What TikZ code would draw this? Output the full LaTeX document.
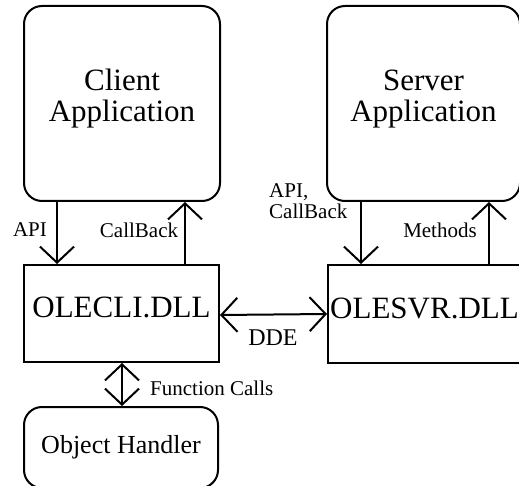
\documentclass[tikz,border=0pt]{standalone}
\usepackage{fontspec}
\setmainfont{Liberation Serif}
\usetikzlibrary{arrows.meta}
\newcommand{\uptext}[2]{\raisebox{#1}[\height][\depth]{\begin{tabular}{@{}c@{}}#2\end{tabular}}}
\begin{document}
\begin{tikzpicture}[x=1pt,y=-1pt,
  box/.style={draw,line width=2pt,inner sep=0pt,align=center,font=\fontsize{31}{31}\selectfont},
  rbox/.style={box,rounded corners=18pt},
  lbl/.style={inner sep=0pt,font=\fontsize{21}{21}\selectfont},
  conn/.style={line width=2pt,-{Straight Barb[length=16pt,width=34pt]}},
  dconn/.style={line width=2pt,{Straight Barb[length=16pt,width=34pt]}-{Straight Barb[length=16pt,width=34pt]}}]
\useasboundingbox (0,0) rectangle (519,486);
\node[rbox,minimum width=196pt,minimum height=195pt] (cliapp) at (122,103.5) {\uptext{4pt}{Client\\Application}};
\node[rbox,minimum width=193pt,minimum height=195pt] (svrapp) at (423.5,103.5) {\uptext{4pt}{Server\\Application}};
\node[box,minimum width=195pt,minimum height=97pt] (olecli) at (121.5,313.5) {\uptext{2pt}{OLECLI.DLL}};
\node[box,minimum width=193pt,minimum height=98pt] (olesvr) at (424.5,314) {\uptext{2pt}{OLESVR.DLL}};
\node[rbox,minimum width=194pt,minimum height=81pt,font=\fontsize{26}{26}\selectfont] (objh) at (121,447.5) {Object Handler};
% connectors
\draw[conn] ([xshift=34pt]cliapp.south west) -- ([xshift=34pt]olecli.north west);
\draw[conn] ([xshift=162pt]olecli.north west) -- ([xshift=162pt]cliapp.south west);
\draw[conn] ([xshift=35pt]svrapp.south west) -- ([xshift=34pt]olesvr.north west);
\draw[conn] ([xshift=162pt]olesvr.north west) -- ([xshift=163pt]svrapp.south west);
\draw[dconn] ([yshift=-1.5pt]olecli.east) -- (olesvr.west);
\draw[dconn] ([xshift=0.5pt]olecli.south) -- ([xshift=1pt]objh.north);
% labels
\node[lbl] (lapi) at (30,230) {API};
\node[lbl] (lcb) at (139,230) {CallBack};
\node[lbl,anchor=west,align=left] (lapicb) at (269,201) {API,\\CallBack};
\node[lbl] (lmeth) at (440,230) {Methods};
\node[lbl,font=\fontsize{24}{24}\selectfont] (ldde) at (273,338) {DDE};
\node[lbl,anchor=west] (lfc) at (150,388) {Function Calls};
\end{tikzpicture}
\end{document}
